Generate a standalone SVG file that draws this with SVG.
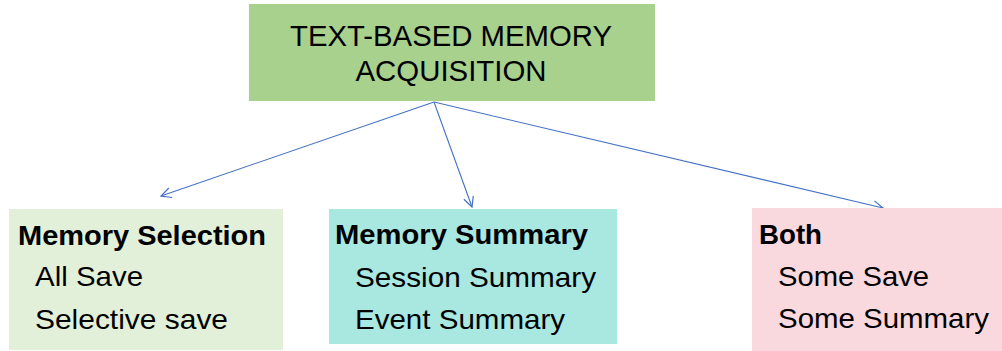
<svg xmlns="http://www.w3.org/2000/svg" width="1002" height="351" viewBox="0 0 1002 351">
<defs>
<marker id="arr" viewBox="0 0 12 12" refX="11" refY="6" markerWidth="12" markerHeight="12" markerUnits="userSpaceOnUse" orient="auto">
<path d="M1,1 L11,6 L1,11" fill="none" stroke="#4472C4" stroke-width="1.2"/>
</marker>
<style>
text{font-family:"Liberation Sans",Arial,sans-serif;fill:#000;}
.t{font-size:29px;}
.h{font-size:28px;font-weight:bold;}
.i{font-size:28px;}
.c{fill:none;stroke:#4472C4;stroke-width:1.1;marker-end:url(#arr);}
</style>
</defs>
<rect width="1002" height="351" fill="#fff"/>
<g id="connectors">
<line class="c" x1="434" y1="102" x2="161" y2="196"/>
<line class="c" x1="434" y1="102" x2="472" y2="207"/>
<line class="c" x1="434" y1="102" x2="883" y2="208"/>
</g>
<g id="root">
<rect x="249" y="4" width="406" height="97" fill="#A9D18E"/>
<text class="t" x="451" y="46" text-anchor="middle" textLength="322" lengthAdjust="spacingAndGlyphs">TEXT-BASED MEMORY</text>
<text class="t" x="451" y="81" text-anchor="middle" textLength="191" lengthAdjust="spacingAndGlyphs">ACQUISITION</text>
</g>
<g id="selection">
<rect x="9" y="209" width="274" height="141" fill="#E2F0D9"/>
<text class="h" x="18" y="245" textLength="248" lengthAdjust="spacingAndGlyphs">Memory Selection</text>
<text class="i" x="35" y="286" textLength="108" lengthAdjust="spacingAndGlyphs">All Save</text>
<text class="i" x="35" y="329" textLength="193" lengthAdjust="spacingAndGlyphs">Selective save</text>
</g>
<g id="summary">
<rect x="329" y="209" width="288" height="135" fill="#A9E7E1"/>
<text class="h" x="335" y="244" textLength="253" lengthAdjust="spacingAndGlyphs">Memory Summary</text>
<text class="i" x="355" y="287" textLength="241" lengthAdjust="spacingAndGlyphs">Session Summary</text>
<text class="i" x="355" y="329" textLength="210" lengthAdjust="spacingAndGlyphs">Event Summary</text>
</g>
<g id="both">
<rect x="752" y="208" width="250" height="143" fill="#F9D9DE"/>
<text class="h" x="759" y="244" textLength="63" lengthAdjust="spacingAndGlyphs">Both</text>
<text class="i" x="778" y="286" textLength="151" lengthAdjust="spacingAndGlyphs">Some Save</text>
<text class="i" x="778" y="328" textLength="211" lengthAdjust="spacingAndGlyphs">Some Summary</text>
</g>
</svg>
